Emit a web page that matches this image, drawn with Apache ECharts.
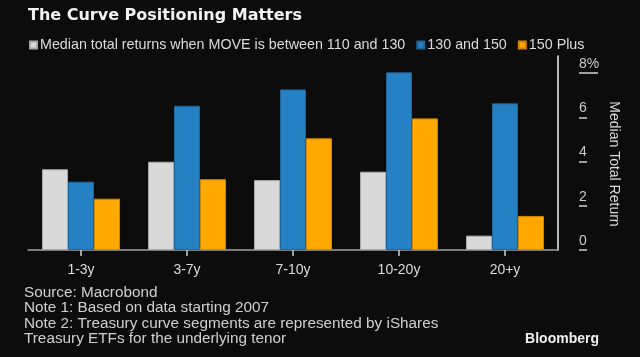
<!DOCTYPE html>
<html>
<head>
<meta charset="utf-8">
<script src="https://cdn.jsdelivr.net/npm/echarts@6/dist/echarts.min.js"></script>
<style>
html,body{margin:0;padding:0;background:#0c0c0c;}
#c{width:640px;height:357px;}
</style>
</head>
<body>
<div id="c"></div>
<script>
const categories = ['1-3y', '3-7y', '7-10y', '10-20y', '20+y'];
const seriesNames = ['Median total returns when MOVE is between 110 and 130', '130 and 150', '150 Plus'];
const move110to130 = [3.65, 3.99, 3.16, 3.54, 0.65];
const move130to150 = [3.09, 6.52, 7.26, 8.03, 6.63];
const move150plus = [2.32, 3.20, 5.05, 5.95, 1.54];
const yTicks = [0, 2, 4, 6, 8];
const yTickLabels = ['0', '2', '4', '6', '8%'];
const noteLines = [
  'Source: Macrobond',
  'Note 1: Based on data starting 2007',
  'Note 2: Treasury curve segments are represented by iShares',
  'Treasury ETFs for the underlying tenor'
];

const chart = echarts.init(document.getElementById('c'), null, {renderer: 'canvas'});
const FONT = 'Liberation Sans, Arial, sans-serif';
const colors = ['#d9d9d9', '#2581c4', '#ffa800'];
const borders = ['#a8a8a8', '#1d6499', '#cc8600'];
const yMax = 8.77;

function barSeries(i, data) {
  return {
    name: seriesNames[i],
    type: 'bar',
    data: data,
    barWidth: 26,
    barGap: '0%',
    itemStyle: {color: colors[i], borderColor: borders[i], borderWidth: 1},
    emphasis: {disabled: true}
  };
}

chart.setOption({
  backgroundColor: '#0c0c0c',
  animation: false,
  color: colors,
  grid: {left: 28, right: 82, top: 56, bottom: 107, containLabel: false},
  legend: {
    left: 24, top: 33,
    itemWidth: 7, itemHeight: 7, itemGap: 11,
    icon: 'rect',
    textStyle: {color: '#dcdcdc', fontSize: 14.3, fontFamily: FONT, padding: [0, 0, 0, -2]},
    data: seriesNames
  },
  xAxis: {
    type: 'category',
    data: categories,
    boundaryGap: true,
    axisLine: {show: true, lineStyle: {color: '#a0a0a0', width: 1.5}},
    axisTick: {show: true, alignWithLabel: true, length: 6, lineStyle: {color: '#cfcfcf', width: 1.5}},
    axisLabel: {color: '#dcdcdc', fontSize: 14, fontFamily: FONT, margin: 13},
    splitLine: {show: false}
  },
  yAxis: [
    {
      type: 'value', position: 'right', min: 0, max: yMax,
      axisLine: {show: true, lineStyle: {color: '#f0f0f0', width: 1.5}},
      axisTick: {show: false}, axisLabel: {show: false}, splitLine: {show: false}
    },
    {
      type: 'value', position: 'right', min: 0, max: yMax, offset: 21,
      axisLine: {show: false},
      axisTick: {show: true, customValues: yTicks.slice(0, 4), length: 8, inside: false,
        lineStyle: {color: '#cfcfcf', width: 1.5}},
      axisLabel: {show: true, customValues: yTicks, margin: 0, align: 'left', verticalAlign: 'bottom',
        padding: [0, 0, 2, 0],
        color: '#cccccc', fontSize: 14, fontFamily: FONT,
        formatter: function (v) { const k = yTicks.indexOf(v); return k >= 0 ? yTickLabels[k] : ''; }},
      splitLine: {show: false}
    },
    {
      type: 'value', position: 'right', min: 0, max: yMax, offset: 21,
      axisLine: {show: false},
      axisTick: {show: true, customValues: [8], length: 19, inside: false,
        lineStyle: {color: '#cfcfcf', width: 1.5}},
      axisLabel: {show: false}, splitLine: {show: false}
    }
  ],
  series: [
    barSeries(0, move110to130),
    barSeries(1, move130to150),
    barSeries(2, move150plus)
  ],
  graphic: [
    {type: 'text', left: 28, top: 8, style: {text: 'The Curve Positioning Matters', fill: '#f2f2f2',
      font: 'bold 16px "DejaVu Sans", sans-serif'}},
    {type: 'text', x: 614, y: 164, rotation: -Math.PI / 2, style: {text: 'Median Total Return', fill: '#dcdcdc',
      fontSize: 14, fontFamily: FONT, align: 'center', verticalAlign: 'middle'}},
    {type: 'text', x: 24, y: 285, style: {text: noteLines.join('\n'), fill: '#d0d0d0',
      fontSize: 15.3, fontFamily: FONT, lineHeight: 15.4, align: 'left', verticalAlign: 'top'}},
    {type: 'text', x: 599, y: 339, style: {text: 'Bloomberg', fill: '#f0f0f0',
      fontSize: 14, fontWeight: 'bold', fontFamily: FONT, align: 'right', verticalAlign: 'middle'}}
  ]
});
</script>
</body>
</html>
